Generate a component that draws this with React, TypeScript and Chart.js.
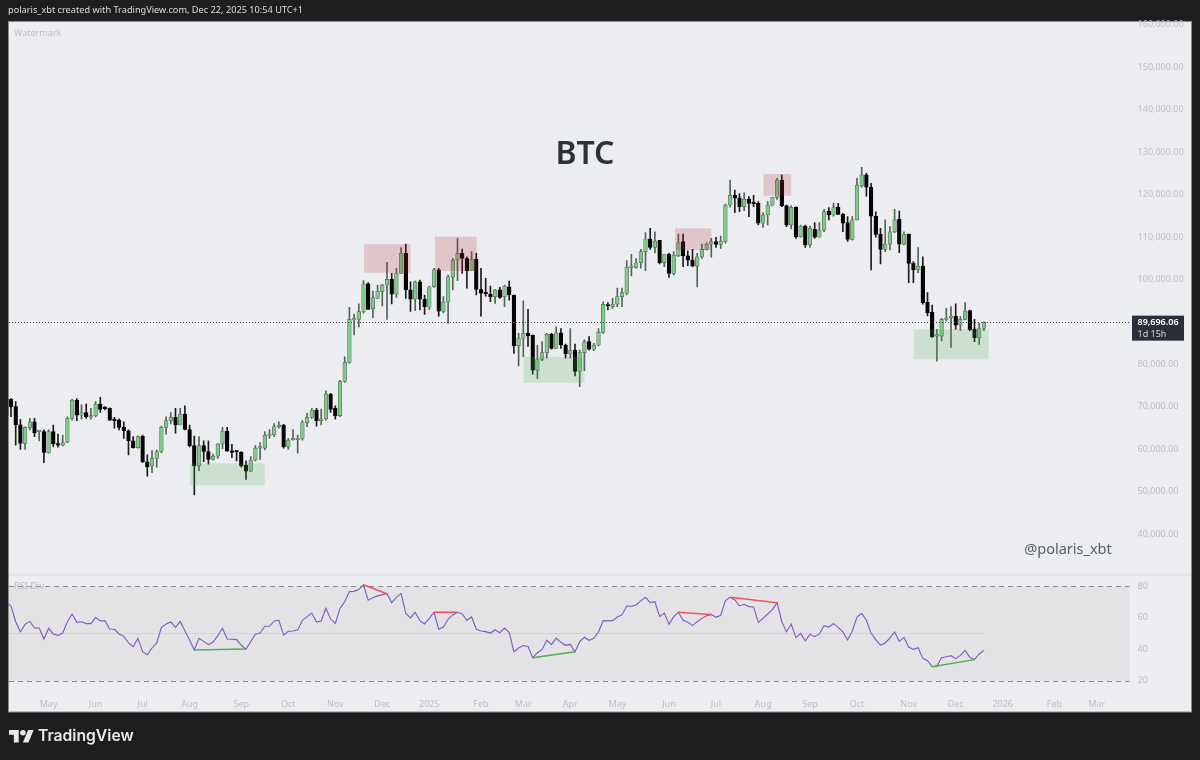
import React, { useEffect, useRef } from "react";
import { Chart, registerables } from "chart.js";

Chart.register(...registerables);

// BTC 3-day candles, in thousands of USD: [open, high, low, close]
const candles: [number, number, number, number][] = [
  [71.5,71.7,67.4,67.8],[71.5,71.7,67.4,69.8],[69.8,71,60.7,65.45],[65.5,66.8,59.7,61.1],[61.1,65,59.7,64.9],
  [64.8,67,64.3,66.2],[66.2,67,62.7,63.6],[63.9,64.1,61.7,63.9],[63.9,64.3,56.6,59],[58.9,64.3,58.8,63.9],
  [63.9,65.45,60.3,61],[61,63.3,60.2,60.7],[60.7,63.1,60.5,61.3],[61.4,67.4,61.3,67],[67,71.5,66.6,71.3],
  [71.3,71.7,66.5,67.8],[67.8,70.2,66.8,68.4],[68.4,70.4,67,67.4],[67.3,69.4,66.8,67.6],[67.6,71,67.4,70.4],
  [70.4,72,68.4,69.1],[69.4,69.8,69,69.3],[69.4,69.5,66.5,66.6],[66.6,67.26,64.7,66.5],[66.6,66.9,64.3,64.9],
  [64.9,66.2,62.3,64.1],[64.1,64.3,58.4,61.75],[61.75,62.7,60,60.1],[60.1,62.9,60,62.7],[62.85,63.1,56.6,56.8],
  [56.8,58.4,53.4,55.6],[55.8,59.4,54.2,57.6],[57.6,59.6,55.5,59.2],[59.2,65.2,58.9,64.9],[64.9,67.4,63.3,66.5],
  [66.5,68.4,65.7,67.26],[67.26,69.4,63.5,65.45],[65.45,69.4,65.45,68],[68,70,64.3,64.4],[64.4,65.45,60.3,60.6],
  [60.6,62.85,48.95,55.8],[55.8,62.7,54.7,60.6],[60.6,61.75,56.8,59.2],[59.2,61.75,56.2,57.35],[57.35,58.6,57.2,58.1],
  [58.1,61,57.6,61],[61,64.9,59.9,64],[64,64.9,59.3,59.3],[59.3,60.9,57.75,59],[59.2,59.4,57,59.1],
  [59,59.2,55.5,55.8],[56,57,52.6,54.6],[54.6,58,54.45,57.2],[57.2,60.6,57,60],[60,61.3,57.35,60.1],
  [60,63.9,59.6,63],[63,64.4,62.3,63.2],[63.1,65.8,62.7,65.1],[65,66.2,64.7,65.45],[65.45,65.6,60,60.3],
  [60.3,62.3,59.7,61.9],[62,64.4,61.9,62.1],[62,63.1,58.8,62.4],[62.3,66.5,61.9,66],[66,68.2,65.06,67.26],
  [67.26,69.4,67,69],[69,69.4,65.2,66.5],[66.5,69.2,65.45,66.9],[66.9,73.5,66.6,72.8],[72.7,72.9,68.4,69.1],
  [69.4,70,66.8,67.6],[67.65,76,67.4,75.7],[75.7,81.55,75.5,80.2],[80.2,93.2,80,90.35],[90.2,91.6,86.7,90.4],
  [90.35,94,88.6,92.2],[92.2,99.5,91.8,98.7],[98.7,99,92.7,92.7],[92.9,97,90.75,95.5],[95.3,98.45,95.3,97],
  [96.9,98.6,93.5,98.45],[98.45,103.8,90.35,99.8],[99.8,101.2,94,96.3],[96.3,102.4,95.5,101.2],[101.2,107.3,101.2,105.9],
  [105.9,108.1,95.3,97.3],[97.3,99.2,92.2,95.1],[95.1,99.4,92.4,99.2],[99.2,99.6,92.6,95.1],[95.1,96.1,91.5,93.35],
  [93.2,98.2,92.7,98.05],[98.05,102.4,97.9,102],[102,102.4,91.1,92.3],[92.2,95.7,91.9,94.4],[94.4,100.8,89.4,100.4],
  [100.3,104.7,97.3,104.35],[104.35,109.45,99.5,105.9],[105.9,106.9,101.2,104.7],[104.7,105.1,97.7,101.8],[101.8,106.3,101.8,104.5],
  [104.5,105.9,96.1,97.4],[97.4,102.4,91.1,96.5],[96.5,100,95.8,96.4],[96.25,98.2,94.5,95.7],[95.7,97.4,94.1,97.3],
  [97.3,97.9,95.3,95.5],[95.7,98.45,93.35,98.2],[98.05,99.4,94.9,96.1],[96.1,96.1,82.35,84.15],[84.15,87.05,79.35,85.9],
  [85.9,94.75,81.55,87.05],[87.05,92.7,84,86.45],[86.65,86.65,77.45,78.4],[78.4,84.3,76.4,80.9],[80.9,85.1,80.6,82.5],
  [82.5,87.05,81.2,86.8],[86.8,87.05,83.3,83.5],[83.5,88.6,83.5,87.2],[87.2,88.2,83.5,84.3],[84.3,84.55,81.2,82.2],
  [82.2,88.2,81.2,83.1],[83.1,84.55,77,78.1],[78.1,83.1,74.5,82.5],[82.5,85.5,78.25,85.1],[85.1,86.3,83.1,83.3],
  [83.3,84.7,83,84.3],[84.3,88.2,84.1,87.3],[87.3,94.5,87.05,93.9],[93.7,94.3,92.55,93.5],[93.35,95.3,92.95,93.9],
  [93.95,97.7,93.35,95.7],[95.7,97.7,93.35,96.65],[96.5,104.2,96.1,102.6],[102.6,105.7,100.6,102.6],[102.6,104.7,102.4,103.7],
  [103.7,106.85,102.4,106.3],[106.3,110.8,101.8,109.3],[109.3,111.8,106.85,107.3],[107.3,111,106,108.8],[109,109,103.4,103.7],
  [103.7,105.7,102.8,105.7],[105.7,105.9,100.25,101.2],[101.2,106.3,100.8,105.5],[105.3,110.45,105.1,108.4],[108.7,110.45,102.8,105.3],
  [105.3,106.5,103,104.3],[104.3,106.85,102.8,102.9],[102.9,105.9,98,105.1],[105.1,108.1,104.7,106.85],[106.85,108.4,106.7,108.1],
  [108.1,109.45,105,108.7],[108.7,109.7,107.3,108],[108,110,107.1,108.8],[108.7,117.5,108.3,117.3],[117.3,123.2,116.8,119.6],
  [119.6,120.85,115.5,119],[119,120,115.75,116.9],[116.9,120.2,116,118.65],[118.65,119.3,114.55,117.7],[117.8,119.6,116.9,117.6],
  [117.7,118.1,112.6,113],[113,115.5,112,115],[115,118.1,112.6,117.3],[117.3,119.1,117.1,119.1],[119.1,123.6,118.65,123.2],
  [123.2,124.4,116.9,117.15],[117.15,117.3,112.2,112.6],[112.6,117.1,111.65,116.75],[116.75,116.9,109.45,109.8],[109.8,112.6,109.7,112.35],
  [112.35,112.6,107.3,107.9],[107.9,112.35,107.3,111.8],[111.6,113.15,109.45,109.7],[109.7,113.15,109.7,111.4],[111.4,116.3,111,115.75],
  [115.9,116.7,113.8,114.95],[114.95,117.7,114.7,116.7],[116.75,117.7,115,115.1],[115.1,115.35,111,113],[113.15,114.55,108.7,109.2],
  [109.2,114.55,109,113.8],[113.8,123.6,113.8,122],[121.8,126.2,121.5,124.4],[124.4,124.8,119.4,121.5],[121.5,122.4,102,114.7],
  [114.7,115.7,109.7,110.4],[110.45,111.8,103.4,106.85],[106.85,113.8,106.3,108.1],[108.1,112.2,106.7,111],[111,116.3,110.8,113.8],
  [113.95,115.9,106.05,108.1],[108.1,111,107.9,110.45],[110.45,110.45,99,103.55],[103.55,103.95,99,102],[102.15,107.3,101.35,102.9],
  [102.9,105.1,93.95,94.3],[94.35,96.65,91.15,91.9],[92,93.7,86.1,86.25],[86.4,88,80.5,86.65],[86.4,90.6,85.3,90.35],
  [90.35,92.95,90,90.6],[90.75,93.35,83.75,91.15],[91.15,94,88,89],[89,91,87.7,90.35],[90.35,94.3,90.2,92.3],
  [92.4,92.55,87.7,87.85],[88.05,90.35,85.1,86],[86,89.4,84.45,88.2],[88.2,89.8,87.7,89.7],
];

const rsiValues: number[] = [
  69.8,67.5,57.5,51,55.8,57.7,53.5,53.5,46.5,53.3,49.7,48.8,50.3,57.5,62.4,57.1,57.5,56.3,56.3,60.1,
  58,58,52.9,52.7,49.7,48.2,44,41.6,46.9,38.4,36.5,40.8,44,53.7,56,57.3,53.9,57.7,51.8,45.9,
  39.5,46.9,45,42.9,44.6,48.6,53.3,46.5,46.3,46.1,42.5,40.1,44.8,49.5,50.3,54.6,54.6,58,58.4,49,
  51.4,51.6,52.2,58.4,60.7,63,57.3,58,66,59.2,56.3,66,70.2,76.6,76.8,77.9,81,71.1,72.8,73.9,
  74.7,75.3,69.6,73,75.5,
  62.8,59.9,63.5,58.2,56.1,59.6,63.5,52.7,54.1,59,61.8,63.5,62.4,58.4,60.5,52.7,51.6,51.2,50.3,52.4,
  50.5,53.5,50.7,38.4,40.8,42.3,41.8,34.6,37.8,39.9,45.7,42.9,47.1,44.4,42.5,43.1,38.4,44.8,47.6,45.7,
  46.9,51,58.2,58,58.2,60.5,61.8,67.5,67.3,68.1,70.7,73,69.6,70.2,60.9,63,55.8,60.7,63.5,58.4,
  57.1,55,57.5,59.6,61.3,62,60.3,61.6,70.9,73,71.3,67.5,68.6,67.1,66.9,57.1,59.6,62.4,65.2,69.6,
  57.5,51,56,47.4,50.1,
  45.4,49.5,48,49.7,55,54.1,56.3,53.9,51,45.9,51.6,60.5,62.8,58.4,50.1,46.1,42.5,44,47.1,51,
  45,47.6,41.4,39.9,41,34.2,32.7,28.9,29.3,34.6,35.2,35.9,34,36.1,39.3,34.8,33.4,37,39.3,
];

const SLOT_COUNT = 240;
const monthTickIndexes = [9,19,29,39,50,60,70,80,90,101,110,120,130,141,151,161,171,181,192,202,212,223,232];
const monthTickLabels = ["May","Jun","Jul","Aug","Sep","Oct","Nov","Dec","2025","Feb","Mar","Apr","May","Jun","Jul","Aug","Sep","Oct","Nov","Dec","2026","Feb","Mar"];
const priceTicks = [40000,50000,60000,70000,80000,100000,110000,120000,130000,140000,150000,160000];
const rsiTicks = [20,40,60,80];

// RSI divergence segments: [start slot, start value, end slot, end value]
const redDivergences: [number, number, number, number][] = [[76,81,81,75.3],[91,63.5,96,63.5],[143,63.5,150,62],[154,73,164,69.6]];
const greenDivergences: [number, number, number, number][] = [[40,39.5,51,40.1],[112,34.6,121,38.4],[197,28.9,206,33.4]];

// Zones: [start slot, end slot, top price, bottom price]
const redZones: [number, number, number, number][] = [[76.1,86,108050,101350],[91.2,100.1,109850,101750],[142.3,150,111800,106700],[161.1,167,124600,119500]];
const greenZones: [number, number, number, number][] = [[39.1,55,56400,51200],[110.1,123,81550,75400],[193.1,209,88000,80950]];

const LAST_PRICE = 89696.06;
const LAST_PRICE_TEXT = "89,696.06";
const COUNTDOWN_TEXT = "1d 15h";

const FONT = '"Noto Sans", sans-serif';
const AXIS_COLOR = "#bdbec5";
const labels = Array.from({ length: SLOT_COUNT }, (_, i) => {
  const k = monthTickIndexes.indexOf(i);
  return k >= 0 ? monthTickLabels[k] : "";
});

const sparse = (s: [number, number, number, number]) => {
  const out: (number | null)[] = new Array(SLOT_COUNT).fill(null);
  out[s[0]] = s[1];
  out[s[2]] = s[3];
  return out;
};

const overlays = {
  id: "overlays",
  beforeDraw(chart: any) {
    const { ctx, scales } = chart;
    const { x, y2 } = scales;
    ctx.save();
    ctx.fillStyle = "#ecedf0";
    ctx.fillRect(8, 22, 1184, 690);
    ctx.strokeStyle = "#8d8d8f";
    ctx.lineWidth = 1;
    ctx.strokeRect(8.5, 21.5, 1183, 690.5);
    ctx.fillStyle = "#e4e5e9";
    ctx.fillRect(9, 573, 1182, 3);
    const top80 = y2.getPixelForValue(80);
    const bot20 = y2.getPixelForValue(20);
    ctx.fillStyle = "#e3e3e6";
    ctx.fillRect(9, top80, x.right - 9, bot20 - top80);
    ctx.strokeStyle = "#d2cde8";
    const mid = Math.round(y2.getPixelForValue(50)) + 0.5;
    ctx.beginPath();
    ctx.moveTo(9, mid);
    ctx.lineTo(x.getPixelForValue(208), mid);
    ctx.stroke();
    ctx.strokeStyle = "#8b8b90";
    ctx.setLineDash([5, 4]);
    for (const v of [top80, bot20]) {
      ctx.beginPath();
      ctx.moveTo(9, Math.round(v) + 0.5);
      ctx.lineTo(x.right, Math.round(v) + 0.5);
      ctx.stroke();
    }
    ctx.restore();
  },
  afterDatasetsDraw(chart: any) {
    const { ctx, scales } = chart;
    const { x, y } = scales;
    const px = (v: number) => x.left + ((x.right - x.left) * v) / (SLOT_COUNT - 1);
    ctx.save();
    ctx.fillStyle = "rgba(178,40,51,0.2)";
    for (const z of redZones) ctx.fillRect(px(z[0]), y.getPixelForValue(z[2]), px(z[1]) - px(z[0]), y.getPixelForValue(z[3]) - y.getPixelForValue(z[2]));
    ctx.fillStyle = "rgba(76,175,80,0.2)";
    for (const z of greenZones) ctx.fillRect(px(z[0]), y.getPixelForValue(z[2]), px(z[1]) - px(z[0]), y.getPixelForValue(z[3]) - y.getPixelForValue(z[2]));

    const py = y.getPixelForValue(LAST_PRICE);
    ctx.strokeStyle = "#4a4a4e";
    ctx.setLineDash([1, 2]);
    ctx.beginPath();
    ctx.moveTo(9, Math.round(py) + 0.5);
    ctx.lineTo(x.right, Math.round(py) + 0.5);
    ctx.stroke();
    ctx.setLineDash([]);

    ctx.fillStyle = "#2a2e39";
    ctx.fillRect(1132, py - 6.5, 52, 25);
    ctx.fillStyle = "#ffffff";
    ctx.textBaseline = "middle";
    ctx.textAlign = "left";
    ctx.font = `600 9px ${FONT}`;
    ctx.fillText(LAST_PRICE_TEXT, 1137.5, py);
    ctx.fillStyle = "#d5d6da";
    ctx.font = `9px ${FONT}`;
    ctx.fillText(COUNTDOWN_TEXT, 1137.5, py + 12);

    ctx.fillStyle = "#bfc0c6";
    ctx.font = `9px ${FONT}`;
    ctx.fillText("Watermark", 14, 33);
    ctx.fillStyle = "#b9bac0";
    ctx.fillText("RSI-Div", 14, 586.5);

    ctx.fillStyle = "#2f3138";
    ctx.textAlign = "center";
    ctx.font = `600 32px ${FONT}`;
    ctx.fillText("BTC", 585, 155);
    ctx.fillStyle = "#5b5e66";
    ctx.font = `14.5px ${FONT}`;
    ctx.fillText("@polaris_xbt", 1068, 550);
    ctx.restore();
  },
};

const UP = "#7fc98b";
const UP_EDGE = "#56705c";
const DOWN = "#050505";
const clipLeft = { left: -1.7, right: 0, top: 0, bottom: 0 };

export default function App() {
  const ref = useRef<HTMLCanvasElement | null>(null);
  useEffect(() => {
    const isUp = candles.map((c) => c[3] >= c[0]);
    const chart = new Chart(ref.current as HTMLCanvasElement, {
      type: "bar",
      data: {
        labels,
        datasets: [
          {
            type: "bar",
            label: "wick",
            yAxisID: "y",
            data: candles.map((c) => [c[2] * 1000, c[1] * 1000]),
            backgroundColor: isUp.map((u) => (u ? "#59615b" : "#1c1c1c")),
            barThickness: 1,
            grouped: false,
            order: 4,
            clip: clipLeft,
          },
          {
            type: "bar",
            label: "body",
            yAxisID: "y",
            data: candles.map((c) => [c[0] * 1000, c[3] * 1000]),
            backgroundColor: isUp.map((u) => (u ? UP : DOWN)),
            borderColor: isUp.map((u) => (u ? UP_EDGE : DOWN)),
            borderWidth: 0.7,
            borderSkipped: false,
            barThickness: 3.7,
            minBarLength: 1.5,
            grouped: false,
            order: 3,
            clip: clipLeft,
          },
          {
            type: "line",
            label: "RSI",
            yAxisID: "y2",
            data: rsiValues,
            borderColor: "#7e57c2",
            borderWidth: 1.1,
            pointRadius: 0,
            tension: 0,
            order: 2,
            clip: clipLeft,
          },
          ...redDivergences.map((s) => ({
            type: "line",
            label: "bearish divergence",
            yAxisID: "y2",
            data: sparse(s),
            spanGaps: true,
            borderColor: "#f4515a",
            borderWidth: 1.5,
            pointRadius: 0,
            order: 1,
          })),
          ...greenDivergences.map((s) => ({
            type: "line",
            label: "bullish divergence",
            yAxisID: "y2",
            data: sparse(s),
            spanGaps: true,
            borderColor: "#4caf50",
            borderWidth: 1.5,
            pointRadius: 0,
            order: 1,
          })),
        ] as any,
      },
      options: {
        responsive: false,
        animation: false,
        layout: { padding: { left: 6.3, right: 8, top: 22, bottom: 48 } },
        plugins: { legend: { display: false }, tooltip: { enabled: false } },
        scales: {
          x: {
            type: "category",
            offset: false,
            grid: { display: false },
            border: { display: false },
            afterBuildTicks: (s: any) => {
              s.ticks = monthTickIndexes.map((v) => ({ value: v }));
            },
            afterFit: (s: any) => {
              s.height = 22;
            },
            ticks: {
              autoSkip: false,
              maxRotation: 0,
              padding: 1,
              color: AXIS_COLOR,
              font: { family: FONT, size: 9 },
              callback: (v: any) => labels[v],
            },
          },
          y: {
            type: "linear",
            position: "right",
            stack: "panes",
            stackWeight: 553,
            min: 30100,
            max: 160440,
            grid: { display: false },
            border: { display: false },
            afterBuildTicks: (s: any) => {
              s.ticks = priceTicks.map((v) => ({ value: v }));
            },
            afterFit: (s: any) => {
              s.width = 62.4;
            },
            ticks: {
              padding: 0,
              labelOffset: 1,
              color: AXIS_COLOR,
              font: { family: FONT, size: 9 },
              callback: (v: any) => Number(v).toLocaleString("en-US", { minimumFractionDigits: 2, maximumFractionDigits: 2 }),
            },
          },
          y2: {
            type: "linear",
            position: "right",
            stack: "panes",
            stackWeight: 115,
            min: 14.09,
            max: 87.18,
            grid: { display: false },
            border: { display: false },
            afterBuildTicks: (s: any) => {
              s.ticks = rsiTicks.map((v) => ({ value: v }));
            },
            afterFit: (s: any) => {
              s.width = 62.4;
            },
            ticks: {
              padding: 0,
              color: AXIS_COLOR,
              font: { family: FONT, size: 9 },
              callback: (v: any) => String(v),
            },
          },
        },
      } as any,
      plugins: [overlays],
    });
    return () => chart.destroy();
  }, []);

  return (
    <div style={{ position: "fixed", left: 0, top: 0, width: 1200, height: 760, background: "#1e1e1e", overflow: "hidden" }}>
      <canvas ref={ref} width={1200} height={760} style={{ position: "absolute", left: 0, top: 0, display: "block" }} />
      <div style={{ position: "absolute", left: 8, top: 3, color: "#dcdcdc", font: `9.2px/14px ${FONT}`, whiteSpace: "nowrap" }}>
        polaris_xbt created with TradingView.com, Dec 22, 2025 10:54 UTC+1
      </div>
      <svg style={{ position: "absolute", left: 9, top: 727 }} width="25" height="17" viewBox="0 0 36 24">
        <path fill="#e8e8e8" d="M14 22H7V11H0V4h14v18zM28 22h-8l7.5-18h8L28 22z" />
        <circle fill="#e8e8e8" cx="20" cy="8" r="4" />
      </svg>
      <div style={{ position: "absolute", left: 38, top: 725, color: "#e8e8e8", font: `600 15.7px/22px Inter, sans-serif`, whiteSpace: "nowrap" }}>TradingView</div>
    </div>
  );
}
